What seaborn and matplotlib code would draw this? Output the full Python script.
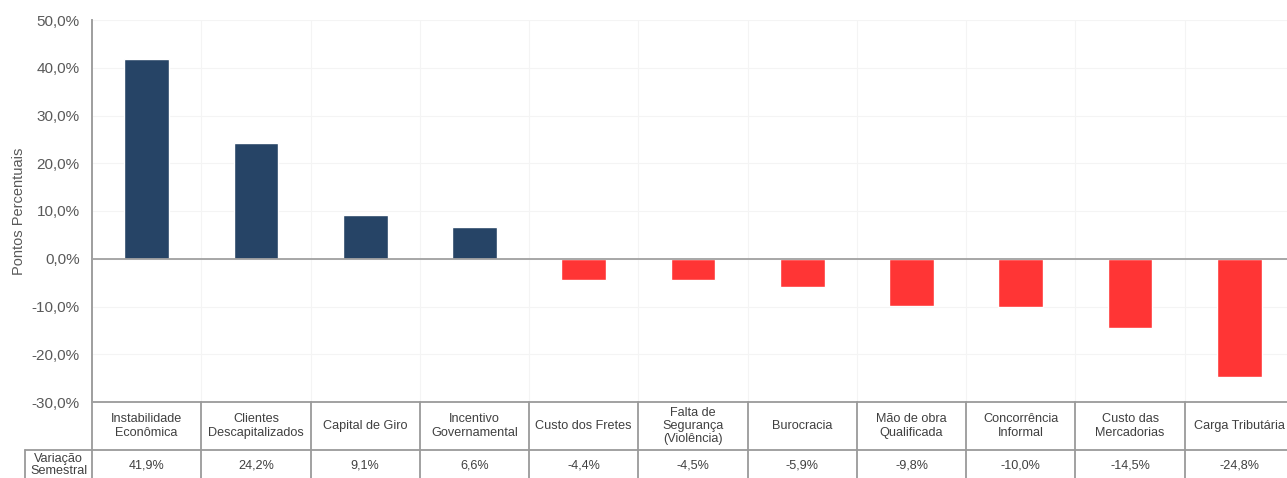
import matplotlib
matplotlib.use("Agg")
import matplotlib.pyplot as plt
import matplotlib.transforms as mtransforms
from matplotlib.ticker import FuncFormatter, MultipleLocator
import seaborn as sns
import pandas as pd

# ---- data ----
categories = [
    "Instabilidade\nEconômica",
    "Clientes\nDescapitalizados",
    "Capital de Giro",
    "Incentivo\nGovernamental",
    "Custo dos Fretes",
    "Falta de\nSegurança\n(Violência)",
    "Burocracia",
    "Mão de obra\nQualificada",
    "Concorrência\nInformal",
    "Custo das\nMercadorias",
    "Carga Tributária",
]
values = [41.9, 24.2, 9.1, 6.6, -4.4, -4.5, -5.9, -9.8, -10.0, -14.5, -24.8]
row_label = "Variação\nSemestral"
y_label = "Pontos Percentuais"

POS = "#264466"
NEG = "#FF3535"

sns.set_style("white")
plt.rcParams["font.family"] = ["Liberation Sans", "DejaVu Sans"]

df = pd.DataFrame({"cat": categories, "val": values})
colors = [POS if v >= 0 else NEG for v in values]

W, H = 1287, 478
fig = plt.figure(figsize=(W / 100, H / 100), dpi=100)
left_px, right_px, top_px, bot_px = 92, 1294, 20, 402
ax = fig.add_axes([left_px / W, 1 - bot_px / H, (right_px - left_px) / W, (bot_px - top_px) / H])

sns.barplot(data=df, x="cat", y="val", hue="cat", palette=colors, legend=False,
            width=0.41, saturation=1, ax=ax, zorder=3)

n = len(categories)
ax.set_xlim(-0.5, n - 0.5)
ax.set_ylim(-30, 50)
ax.yaxis.set_major_locator(MultipleLocator(10))
ax.yaxis.set_major_formatter(FuncFormatter(lambda v, p: f"{v:.1f}%".replace(".", ",")))
ax.tick_params(axis="y", length=0, pad=9, labelsize=11, labelcolor="#595959")
ax.set_xticks([])
ax.set_xlabel("")
ax.set_ylabel(y_label, fontsize=10.5, color="#595959")
ax.yaxis.set_label_coords(-0.055, 0.5)

# grid
for yv in range(-30, 51, 10):
    ax.axhline(yv, color="#F4F4F4", lw=0.8, zorder=0)
for i in range(n):
    ax.axvline(i + 0.5, color="#F4F4F4", lw=0.8, zorder=0)
ax.axhline(0, color="#A0A0A0", lw=1.3, zorder=4)

for s in ["top", "right", "bottom"]:
    ax.spines[s].set_visible(False)
ax.spines["left"].set_color("#A0A0A0")
ax.spines["left"].set_linewidth(1.3)

# ---- table below axes ----
ah = bot_px - top_px
def yf(px):
    return (bot_px - px) / ah

trans = mtransforms.blended_transform_factory(ax.transData, ax.transAxes)
lc = "#9A9A9A"
lw = 1.3
y_top = yf(402)
y_mid = yf(450)
y_bot = yf(500)

ax.plot([-0.5, n - 0.5], [y_top, y_top], transform=trans, color=lc, lw=lw, clip_on=False)
x_rl = -0.5 - (left_px - 25) / ((right_px - left_px) / n)
ax.plot([x_rl, n - 0.5], [y_mid, y_mid], transform=trans, color=lc, lw=lw, clip_on=False)
ax.plot([x_rl, x_rl], [y_mid, y_bot], transform=trans, color=lc, lw=lw, clip_on=False)
for i in range(n + 1):
    ax.plot([i - 0.5, i - 0.5], [y_top if i > 0 else 1.0, y_bot], transform=trans,
            color=lc, lw=lw, clip_on=False)

for i, (c, v) in enumerate(zip(categories, values)):
    ax.text(i, yf(426), c, transform=trans, ha="center", va="center",
            fontsize=9.1, color="#404040", linespacing=1.15, clip_on=False)
    ax.text(i, yf(466), f"{v:.1f}%".replace(".", ","), transform=trans, ha="center",
            va="center", fontsize=9.1, color="#404040", clip_on=False)
ax.text((x_rl - 0.5) / 2, yf(465), row_label, transform=trans, ha="center", va="center",
        fontsize=9.1, color="#404040", linespacing=1.0, clip_on=False)

fig.savefig("out.png", dpi=100)
